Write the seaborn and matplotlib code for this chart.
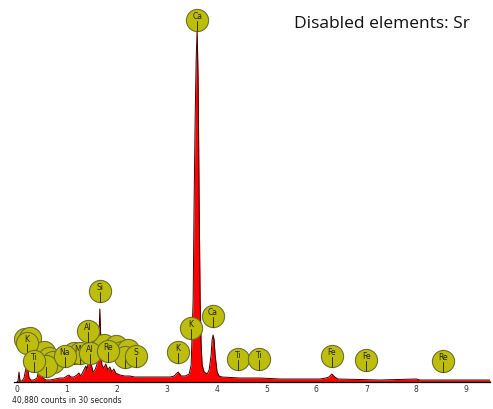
import matplotlib
matplotlib.use("Agg")
import matplotlib.pyplot as plt
import seaborn as sns
import pandas as pd

# ---- spectrum (energy keV, counts) ----
energy = [0.00, 0.02, 0.04, 0.06, 0.10, 0.14, 0.18, 0.22, 0.24, 0.28, 0.34, 0.40, 0.44,
          0.48, 0.52, 0.58, 0.66, 0.76, 0.86, 0.94, 1.00, 1.04, 1.08, 1.14, 1.20, 1.24,
          1.28, 1.34, 1.38, 1.40, 1.44, 1.48, 1.52, 1.56, 1.60, 1.64, 1.66, 1.68, 1.70,
          1.74, 1.78, 1.82, 1.86, 1.90, 1.94, 1.98, 2.06, 2.16, 2.26, 2.36, 2.46, 2.67,
          2.87, 3.07, 3.15, 3.23, 3.29, 3.37, 3.45, 3.49, 3.53, 3.55, 3.57, 3.59, 3.61,
          3.63, 3.65, 3.67, 3.69, 3.71, 3.75, 3.81, 3.85, 3.89, 3.91, 3.93, 3.95, 3.97,
          4.01, 4.05, 4.11, 4.47, 4.87, 5.27, 6.07, 6.19, 6.25, 6.31, 6.37, 6.43, 7.27,
          8.00, 8.08, 9.48]
counts = [0, 10, 100, 10, 10, 40, 140, 130, 40, 20, 20, 40, 120,
          110, 40, 20, 20, 30, 40, 40, 60, 70, 50, 50, 70, 90,
          60, 120, 160, 120, 220, 200, 100, 120, 170, 420, 730, 420, 170,
          140, 180, 120, 150, 100, 130, 90, 70, 60, 60, 50, 50, 50,
          50, 50, 60, 100, 60, 60, 80, 170, 820, 1820, 2620, 3220, 3520,
          3020, 1820, 820, 370, 170, 100, 80, 120, 270, 420, 470, 420, 270,
          100, 60, 50, 40, 40, 30, 30, 40, 50, 80, 50, 30, 20,
          30, 20, 20]

# ---- element markers (back to front); "" = circle whose label is fully hidden ----
label_text = ["", "", "", "", "", "", "", "", "", "", "", "", "",
              "K", "Ti", "Mg", "Al", "Na", "Re", "S", "Al", "Si",
              "K", "K", "Ca", "Ca", "Ti", "Ti", "Fe", "Fe", "Re"]
label_energy = [0.16, 0.26, 0.54, 0.64, 0.72, 0.58, 1.14, 1.66, 1.74, 1.98, 2.10, 2.22, 2.16,
                0.20, 0.34, 1.26, 1.46, 0.96, 1.82, 2.38, 1.42, 1.66,
                3.23, 3.49, 3.93, 3.61, 4.43, 4.85, 6.31, 7.00, 8.54]
label_height = [430, 440, 300, 240, 200, 160, 290, 350, 370, 360, 300, 320, 250,
                390, 210, 290, 290, 260, 310, 260, 510, 910,
                300, 540, 660, 3620, 230, 230, 260, 220, 210]

disabled_note = "Disabled elements: Sr"
counts_note = "40,880 counts in 30 seconds"
xticks = [0, 1, 2, 3, 4, 5, 6, 7, 8, 9]

sns.set_style("white")
plt.rcParams["font.family"] = ["DejaVu Sans"]

fig = plt.figure(figsize=(4.93, 4.09), dpi=100)
ax = fig.add_axes([0.0284, 0.066, 0.9656, 0.922])

df = pd.DataFrame({"energy": energy, "counts": counts})
ax.fill_between(df["energy"], 0, df["counts"], color="#ff0000", linewidth=0, zorder=2)
sns.lineplot(data=df, x="energy", y="counts", ax=ax, color="#3a0000", linewidth=0.7,
             zorder=2.5, sort=False)

ax.set_xlim(-0.06, 9.48)
ax.set_ylim(0, 3770)

for i, (t, e, h) in enumerate(zip(label_text, label_energy, label_height)):
    z = 5 + 3 * i
    ax.scatter([e], [h], s=255, color="#bdbd0c", edgecolor="#6f6f30", linewidth=0.8,
               zorder=z)
    ax.plot([e, e], [h - 108, h - 10], color="#333300", linewidth=0.7, zorder=z + 1)
    if t:
        ax.annotate(t, (e, h), xytext=(0, 2.2), textcoords="offset points", ha="center",
                    va="center", fontsize=5.5, color="#222222", zorder=z + 2)

for s in ["top", "right", "left"]:
    ax.spines[s].set_visible(False)
ax.spines["bottom"].set_color("#000000")
ax.spines["bottom"].set_linewidth(0.9)
ax.set_yticks([])
ax.set_xticks(xticks)
ax.set_xticklabels([str(v) for v in xticks], fontsize=5.5, color="#333333")
ax.tick_params(axis="x", length=0, pad=2)
ax.set_xlabel("")
ax.set_ylabel("")

fig.text(0.954, 0.941, disabled_note, ha="right", va="center", fontsize=12.5,
         family=["Open Sans", "DejaVu Sans"], color="#111111")
fig.text(0.024, 0.022, counts_note, ha="left", va="center", fontsize=5.5, color="#222222")

fig.savefig("out.png", dpi=100)
